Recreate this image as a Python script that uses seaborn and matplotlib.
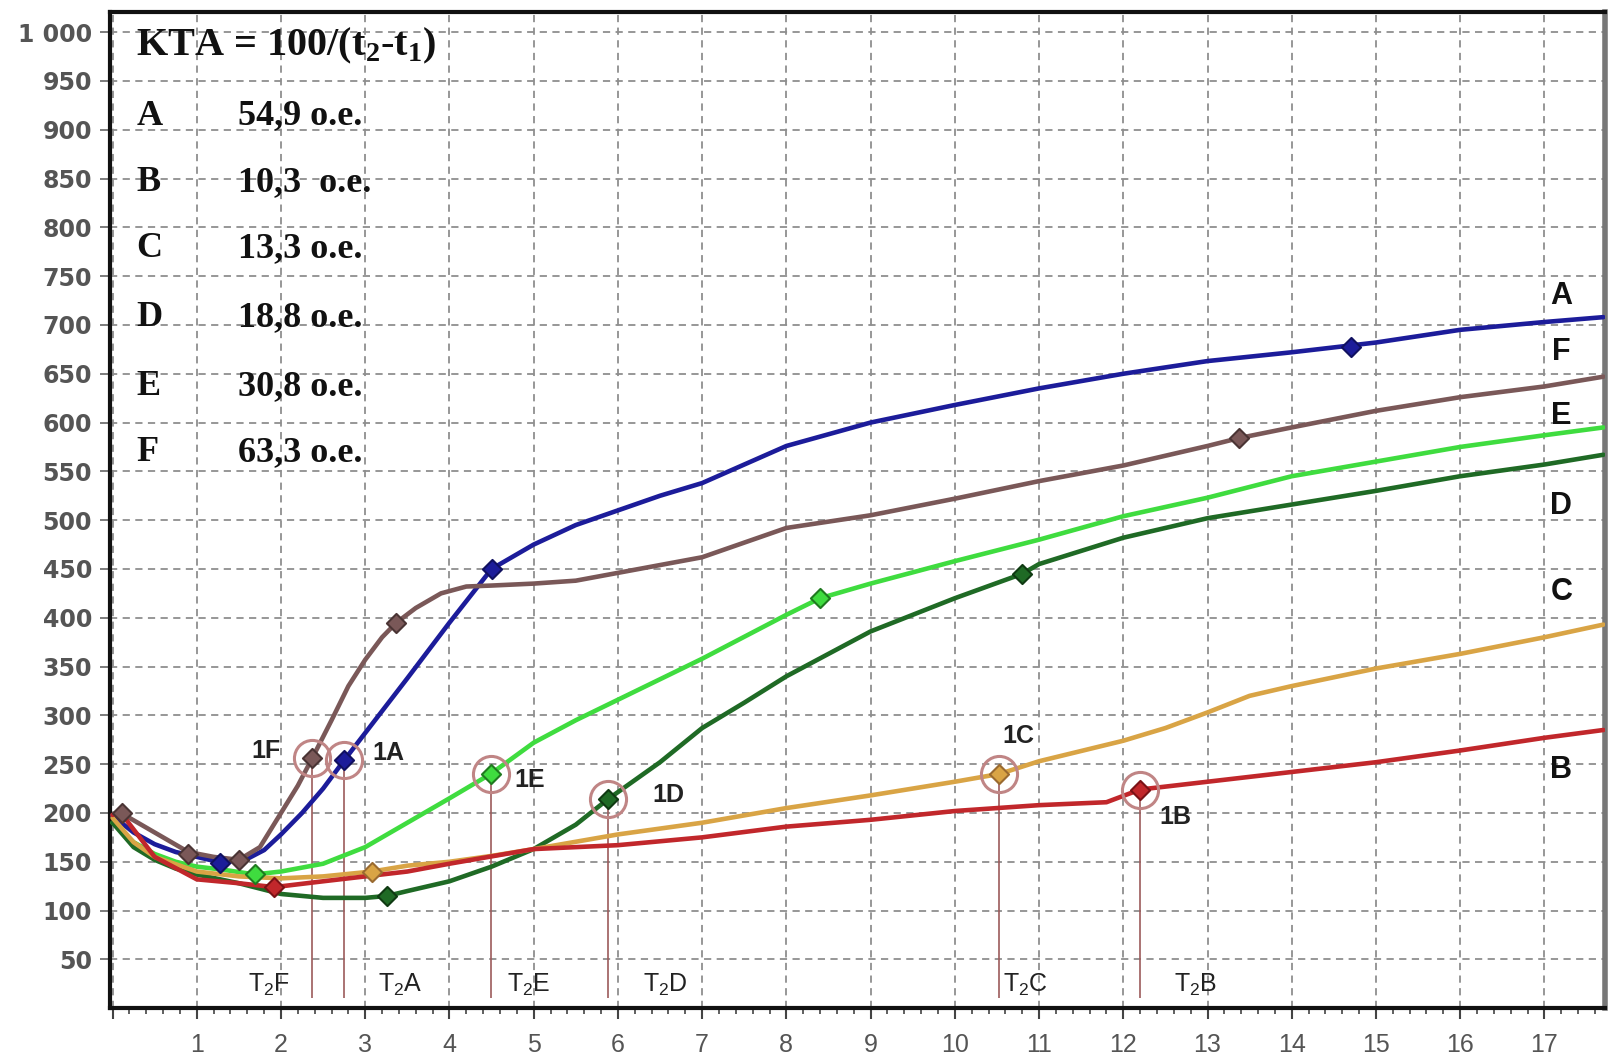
import numpy as np
import pandas as pd
import matplotlib
matplotlib.use("Agg")
import matplotlib.pyplot as plt
import seaborn as sns

# ---------------- data ----------------
A_x = [0, 0.25, 0.5, 0.75, 1.0, 1.3, 1.6, 1.8, 2.0, 2.25, 2.5, 2.75, 3.0, 3.5, 4.0, 4.5, 5.0, 5.5,
       6.0, 6.5, 7.0, 8.0, 9.0, 10.0, 11.0, 12.0, 13.0, 14.0, 15.0, 16.0, 17.0, 17.7]
A_y = [197, 180, 168, 160, 155, 149, 153, 162, 178, 200, 225, 254, 282, 338, 395, 450, 475, 495,
       510, 525, 538, 576, 600, 618, 635, 650, 663, 672, 682, 695, 703, 708]

F_x = [0, 0.1, 0.5, 0.9, 1.2, 1.5, 1.75, 2.0, 2.2, 2.37, 2.6, 2.8, 3.0, 3.2, 3.37, 3.6, 3.9, 4.2,
       4.5, 5.0, 5.5, 6.0, 7.0, 8.0, 9.0, 10.0, 11.0, 12.0, 13.0, 13.37, 14.0, 15.0, 16.0, 17.0, 17.7]
F_y = [198, 200, 180, 160, 155, 152, 165, 200, 228, 256, 295, 330, 357, 380, 395, 410, 425, 432,
       433, 435, 438, 446, 462, 492, 505, 522, 540, 556, 576, 584, 595, 612, 626, 637, 647]

E_x = [0, 0.25, 0.5, 0.75, 1.0, 1.3, 1.69, 2.0, 2.5, 3.0, 3.5, 4.0, 4.49, 5.0, 5.5, 6.0, 7.0, 8.0,
       8.4, 9.0, 10.0, 11.0, 12.0, 13.0, 14.0, 15.0, 16.0, 17.0, 17.7]
E_y = [190, 170, 158, 150, 145, 142, 137, 140, 148, 165, 190, 215, 240, 272, 295, 316, 358, 403,
       420, 435, 458, 480, 504, 523, 545, 560, 575, 587, 595]

D_x = [0, 0.25, 0.5, 0.75, 1.0, 1.5, 2.0, 2.5, 3.0, 3.26, 3.5, 4.0, 4.5, 5.0, 5.5, 5.88, 6.5, 7.0,
       7.5, 8.0, 9.0, 10.0, 10.8, 11.0, 12.0, 13.0, 14.0, 15.0, 16.0, 17.0, 17.7]
D_y = [190, 165, 152, 143, 137, 128, 117, 113, 113, 115, 120, 130, 145, 163, 188, 214, 252, 287,
       313, 340, 386, 420, 445, 455, 482, 502, 516, 530, 545, 557, 567]

C_x = [0, 0.25, 0.5, 1.0, 1.5, 2.0, 2.5, 3.08, 3.5, 4.0, 4.5, 5.0, 6.0, 7.0, 8.0, 9.0, 10.0, 10.53,
       11.0, 12.0, 12.5, 13.0, 13.5, 14.0, 15.0, 16.0, 17.0, 17.7]
C_y = [195, 170, 155, 140, 135, 133, 135, 140, 146, 150, 156, 163, 178, 190, 205, 218, 232, 240,
       253, 274, 287, 303, 320, 330, 348, 363, 380, 393]

B_x = [0, 0.1, 0.5, 1.0, 1.5, 1.92, 2.5, 3.0, 3.5, 4.0, 5.0, 6.0, 7.0, 8.0, 9.0, 10.0, 11.0, 11.8,
       12.2, 13.0, 14.0, 15.0, 16.0, 17.0, 17.7]
B_y = [198, 200, 155, 132, 128, 124, 130, 135, 140, 148, 163, 167, 175, 186, 193, 202, 208, 211,
       224, 232, 242, 252, 264, 277, 285]

series_names = ["A", "F", "E", "D", "C", "B"]
series_x = {"A": A_x, "F": F_x, "E": E_x, "D": D_x, "C": C_x, "B": B_x}
series_y = {"A": A_y, "F": F_y, "E": E_y, "D": D_y, "C": C_y, "B": B_y}

# small point markers on each curve
mark_x = {"A": [1.28, 2.75, 4.5, 14.7], "F": [0.11, 0.9, 1.5, 2.37, 3.37, 13.37],
          "E": [1.69, 4.49, 8.4], "D": [3.26, 5.88, 10.8], "C": [3.08, 10.53], "B": [1.92, 12.2]}
mark_y = {"A": [149, 254, 450, 677], "F": [200, 158, 152, 256, 395, 584],
          "E": [137, 240, 420], "D": [115, 214, 445], "C": [140, 240], "B": [124, 224]}

# highlighted "1X" points and T2 lines
key_names = ["F", "A", "E", "D", "C", "B"]
key_x = [2.37, 2.75, 4.49, 5.88, 10.53, 12.2]
key_y = [256, 254, 240, 214, 240, 224]
key_label_x = [1.82, 3.27, 4.95, 6.6, 10.75, 12.62]
key_label_y = [263, 261, 234, 218, 279, 196]
t2_label_x = [1.86, 3.42, 4.94, 6.56, 10.84, 12.86]

# right-hand series labels
end_label_y = {"A": 730, "F": 672, "E": 607, "D": 514, "C": 426, "B": 244}

# text block
kta_letters = ["A", "B", "C", "D", "E", "F"]
kta_values = ["54,9 o.e.", "10,3  o.e.", "13,3 o.e.", "18,8 o.e.", "30,8 o.e.", "63,3 o.e."]
kta_rows_y = [914, 846, 778, 708, 637, 569]

y_ticks = list(range(50, 1001, 50))
y_tick_labels = [("1 000" if v == 1000 else str(v)) for v in y_ticks]
x_ticks = list(range(0, 18))
x_tick_labels = [""] + [str(v) for v in range(1, 18)]

colors = {"A": "#1c1c9a", "F": "#7a5858", "E": "#3fdc3f", "D": "#1f6a25",
          "C": "#d9a445", "B": "#c1272b"}
edge_colors = {"A": "#101060", "F": "#4a3434", "E": "#1f7a1f", "D": "#0f3a12",
               "C": "#9a6a30", "B": "#7a1216"}

# ---------------- figure ----------------
sns.set_theme(style="white")
plt.rcParams["font.family"] = ["DejaVu Sans"]

fig = plt.figure(figsize=(16.18, 10.59), dpi=100)
ax = fig.add_axes([0.068, 0.048, 0.924, 0.941])

frames = [pd.DataFrame({"t": series_x[s], "v": series_y[s], "series": s}) for s in series_names]
df = pd.concat(frames, ignore_index=True)
sns.lineplot(data=df, x="t", y="v", hue="series", palette=colors, hue_order=series_names,
             estimator=None, sort=True, linewidth=3.3, legend=False, ax=ax, zorder=3)

mframes = [pd.DataFrame({"t": mark_x[s], "v": mark_y[s], "series": s}) for s in series_names]
mdf = pd.concat(mframes, ignore_index=True)
for s in series_names:
    sub = mdf[mdf.series == s]
    sns.scatterplot(data=sub, x="t", y="v", marker="D", s=95, color=colors[s],
                    edgecolor=edge_colors[s], linewidth=1.5, legend=False, ax=ax, zorder=5)

# highlight circles and vertical lines
ax.vlines(key_x, 10, key_y, colors="#9c5b5b", linewidth=1.2, zorder=2)
ax.plot(key_x, key_y, linestyle="none", marker="o", markersize=26, markerfacecolor="none",
        markeredgecolor="#c08585", markeredgewidth=2.2, zorder=6)

lbl_font = ["Liberation Sans Narrow", "Liberation Sans", "DejaVu Sans"]
for name, lx, ly in zip(key_names, key_label_x, key_label_y):
    ax.text(lx, ly, "1" + name, fontsize=18, fontweight="bold", family=lbl_font,
            color="#222222", ha="center", va="center", zorder=7)
for name, lx in zip(key_names, t2_label_x):
    ax.text(lx, 24, r"T$_\mathregular{2}$" + name, fontsize=18, family=lbl_font,
            color="#222222", ha="center", va="center", zorder=7)

for s in series_names:
    ax.text(17.2, end_label_y[s], s, fontsize=22, fontweight="bold",
            family=["Liberation Sans", "DejaVu Sans"], color="#111111",
            ha="center", va="center", zorder=7)

serif = ["Liberation Serif", "DejaVu Serif"]
ax.text(0.28, 986, r"KTA = 100/(t$_\mathregular{2}$-t$_\mathregular{1}$)", fontsize=29,
        fontweight="bold", family=serif, color="#111111", ha="left", va="center", zorder=7)
for letter, val, ry in zip(kta_letters, kta_values, kta_rows_y):
    ax.text(0.28, ry, letter, fontsize=26, fontweight="bold", family=serif,
            color="#111111", ha="left", va="center", zorder=7)
    ax.text(1.49, ry, val, fontsize=26, fontweight="bold", family=serif,
            color="#111111", ha="left", va="center", zorder=7)

# axes styling
ax.set_xlim(-0.03, 17.72)
ax.set_ylim(0, 1021)
ax.set_yticks(y_ticks)
ax.set_yticklabels(y_tick_labels)
ax.set_xticks(x_ticks)
ax.set_xticklabels(x_tick_labels)
ax.set_xticks(np.arange(0, 17.72, 0.2), minor=True)
ax.set_xlabel("")
ax.set_ylabel("")
ax.grid(True, which="major", color="#8f8f8f", linestyle=(0, (4, 3)), linewidth=1.3, zorder=0)
ax.set_axisbelow(True)

for lab in ax.get_yticklabels():
    lab.set_fontsize(17)
    lab.set_color("#555555")
    lab.set_fontweight("bold")
for lab in ax.get_xticklabels():
    lab.set_fontsize(18)
    lab.set_color("#555555")
    lab.set_family(lbl_font)

ax.tick_params(axis="y", which="major", direction="out", length=7, width=1.2, color="#666666", pad=6,
               left=True)
ax.tick_params(axis="x", which="major", direction="out", length=8, width=1.5, color="#444444", pad=10,
               bottom=True)
ax.tick_params(axis="x", which="minor", direction="out", length=4, width=1.2, color="#444444",
               bottom=True)

for side in ["left", "bottom", "top"]:
    ax.spines[side].set_visible(True)
    ax.spines[side].set_color("#111111")
    ax.spines[side].set_linewidth(3)
ax.spines["right"].set_visible(True)
ax.spines["right"].set_color("#777777")
ax.spines["right"].set_linewidth(4)

fig.savefig("out.png", dpi=100, facecolor="white")
